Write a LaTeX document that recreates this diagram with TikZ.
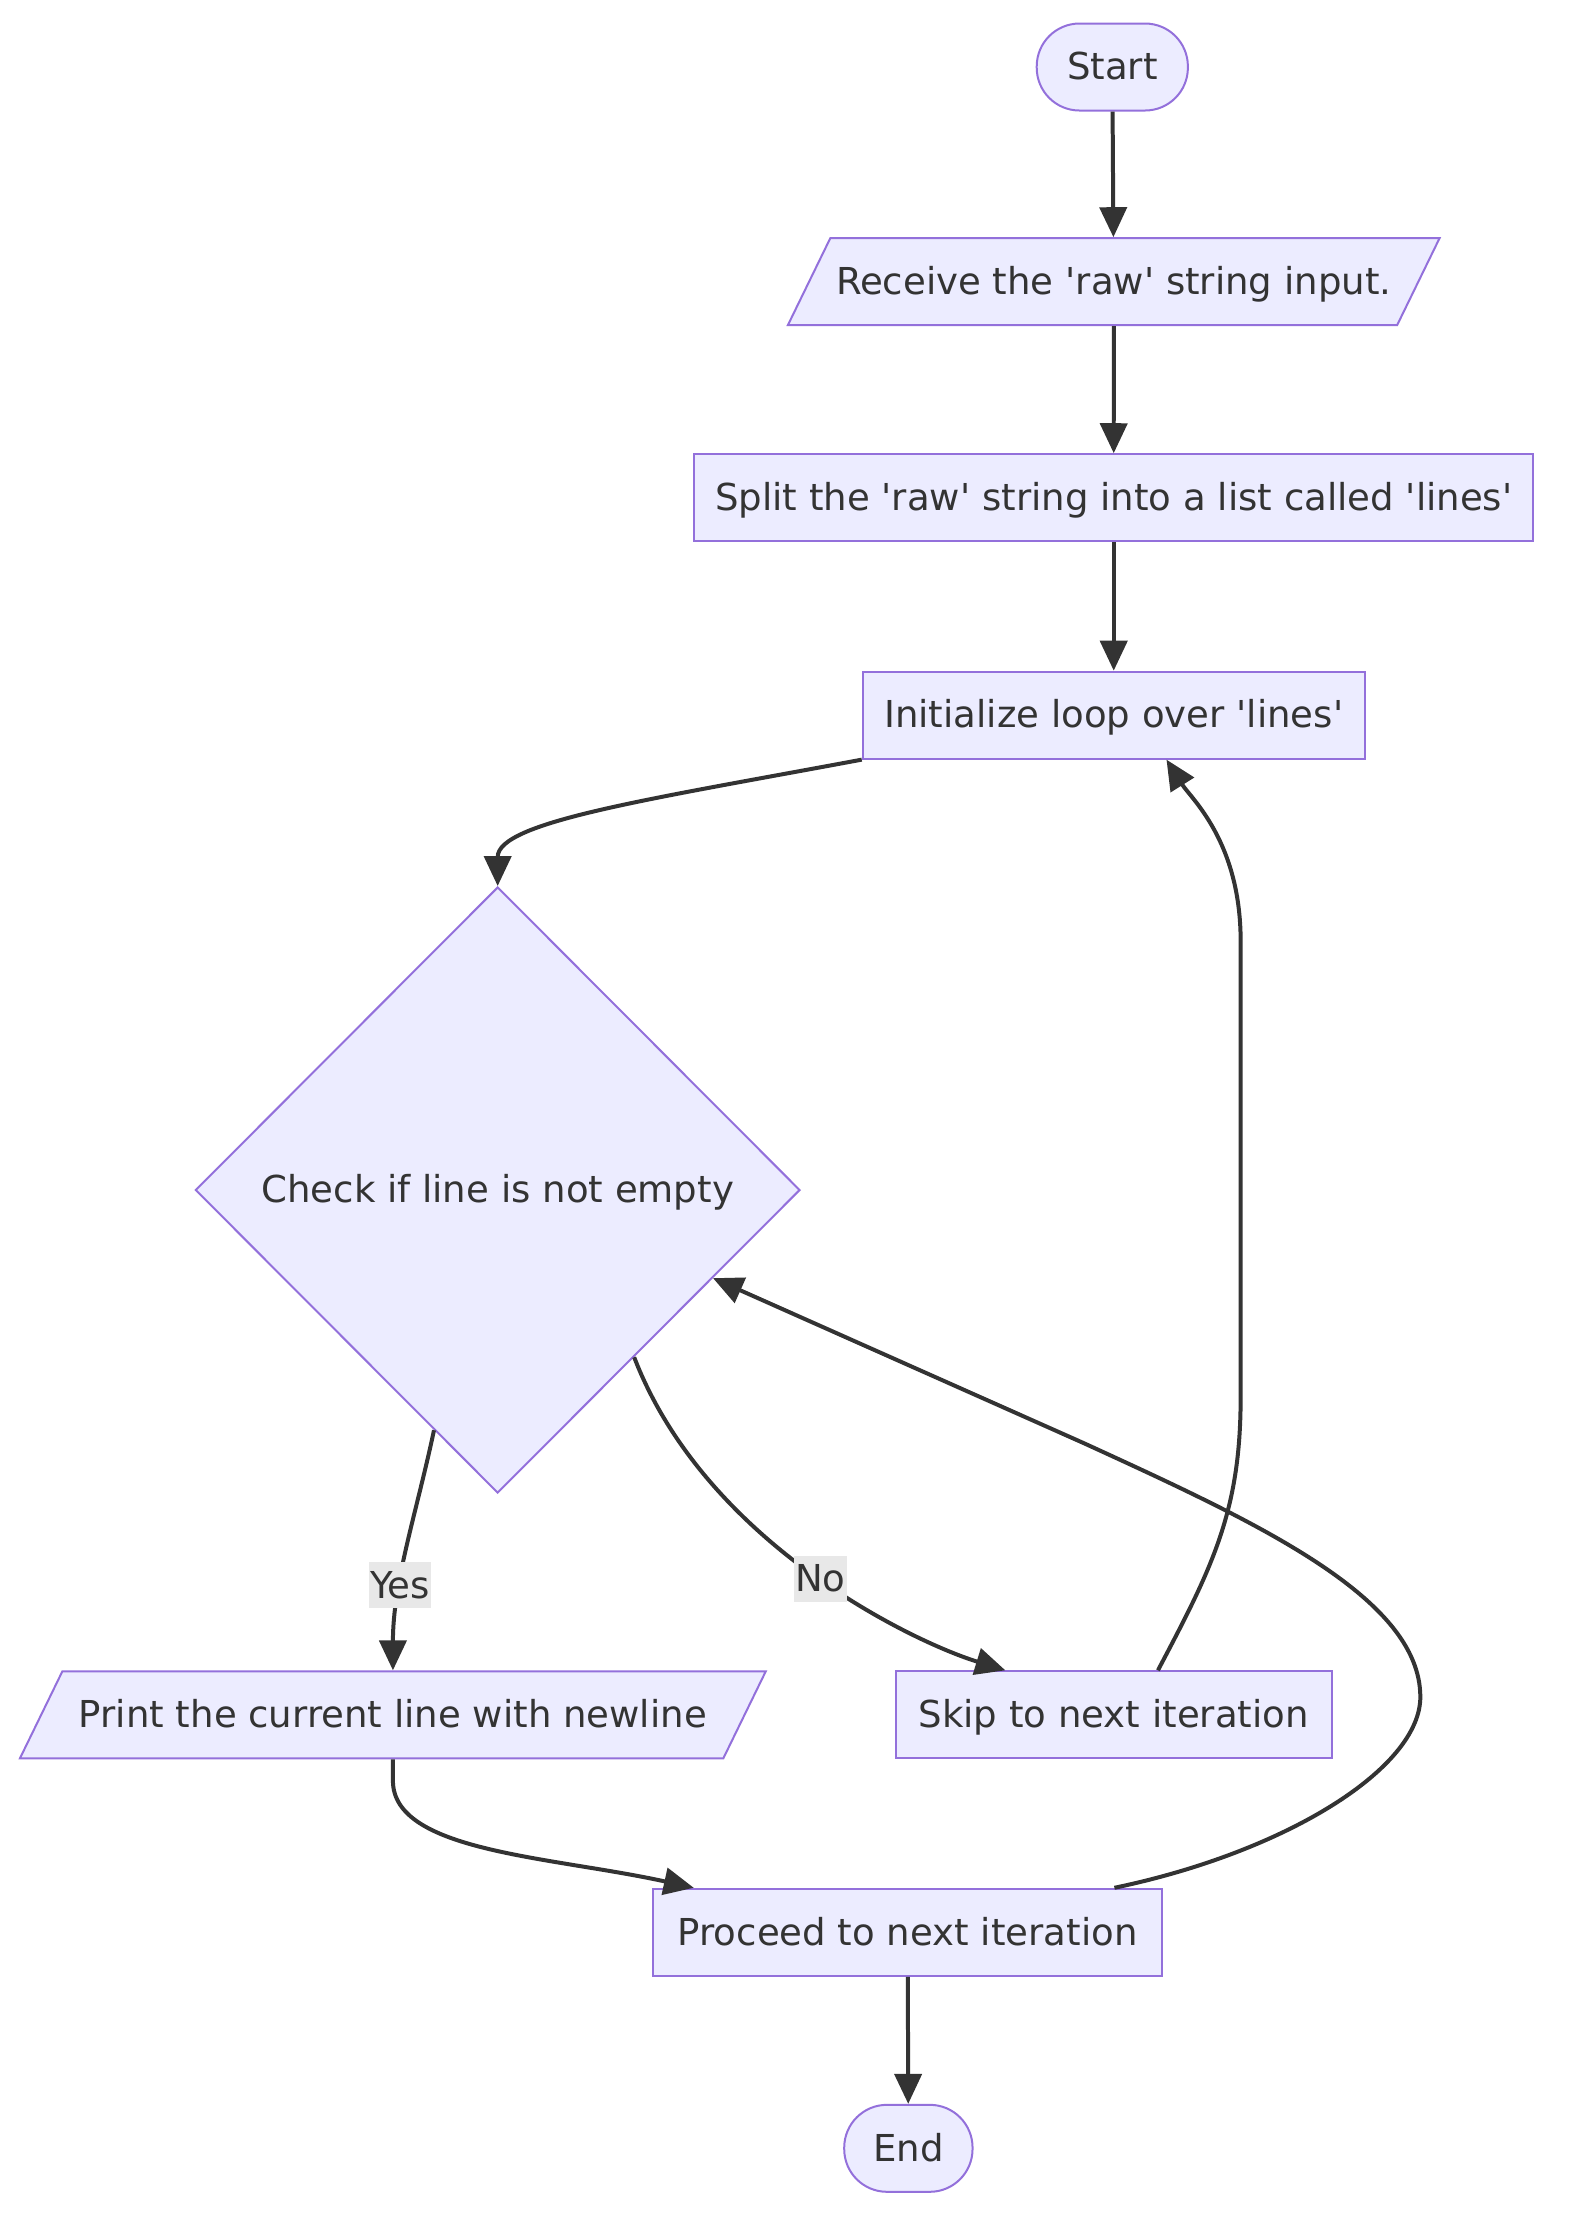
\documentclass[tikz,border=0pt]{standalone}
\usepackage{fontspec}
\newfontfamily\flowfont{DejaVu Sans}
\usetikzlibrary{shapes.geometric, arrows.meta, calc}
\definecolor{node-fill}{HTML}{ECECFF}
\definecolor{node-line}{HTML}{9370DB}
\definecolor{edge-gray}{HTML}{333333}
\definecolor{label-gray}{HTML}{E8E8E8}

\begin{document}
\begin{tikzpicture}[x=1pt, y=-1pt,
  every node/.style={font=\flowfont\fontsize{26}{31}\selectfont, text=edge-gray, text height=21.5pt, text depth=3.5pt},
  box/.style={draw=node-line, fill=node-fill, line width=1.4pt, minimum height=61pt, inner xsep=0pt, inner ysep=18pt},
  term/.style={box, rounded corners=30pt},
  io/.style={box, trapezium, trapezium left angle=64, trapezium right angle=116, trapezium stretches body},
  check/.style={box, diamond, aspect=1, inner sep=0pt, minimum width=424pt, minimum height=425pt},
  flow/.style={draw=edge-gray, line width=2.8pt, -{Triangle[length=21pt, width=19pt]}},
  lbl/.style={fill=label-gray, inner xsep=1pt, inner ysep=3.5pt}]%line loop
\useasboundingbox (0,0) rectangle (1099.6,1568);
% nodes
  \node[term, minimum width=106pt] (start) at (780,47) {Start};
  \node[io, minimum width=457pt] (receive) at (781,197.5) {Receive the 'raw' string input.};
  \node[box, minimum width=588pt] (split) at (781,349) {Split the 'raw' string into a list called 'lines'};
  \node[box, minimum width=352pt] (init) at (781,501.5) {Initialize loop over 'lines'};
  \node[check] (check) at (349,834.5) {Check if line is not empty};
  \node[io, minimum width=523pt] (print) at (275.5,1202.5) {Print the current line with newline};
  \node[box, minimum width=306pt] (skip) at (781,1202.5) {Skip to next iteration};
  \node[box, minimum width=357pt] (proceed) at (636.5,1355) {Proceed to next iteration};
  \node[term, minimum width=90pt] (end) at (637,1506.5) {End};
% edges
\draw[flow] (start) -- (receive);
\draw[flow] (receive) -- (split);
\draw[flow] (split) -- (init);
\draw[flow] (init.south west) .. controls +(-150,28) and +(0,-45) .. (check.north);
\draw[flow] ($(check.south)!0.21!(check.west)$) .. controls +(-12,57) and +(0,-62) .. (print.north) node[lbl, pos=0.66] {Yes};
\draw[flow] ($(check.south)!0.45!(check.east)$) .. controls +(50,130) and +(-65,-20) .. ([xshift=-76pt]skip.north) node[lbl, pos=0.52] {No};
\draw[flow] ([xshift=31pt]skip.north) .. controls +(38,-72) and +(0,80) .. (870,980) -- (870,660) .. controls +(0,-70) and +(17,27) .. ([xshift=37pt]init.south);
\draw[flow] (print.south) -- ++(0,15) .. controls +(0,50) and +(-100,-22) .. ([xshift=-150pt]proceed.north);
\draw[flow] ([xshift=145pt]proceed.north) .. controls +(120,-25) and +(0,50) .. (996,1190) .. controls +(0,-70) and +(120,55) .. (760,1012) -- ($(check.south)!0.71!(check.east)$);
\draw[flow] (proceed) -- (end);
\end{tikzpicture}
\end{document}
